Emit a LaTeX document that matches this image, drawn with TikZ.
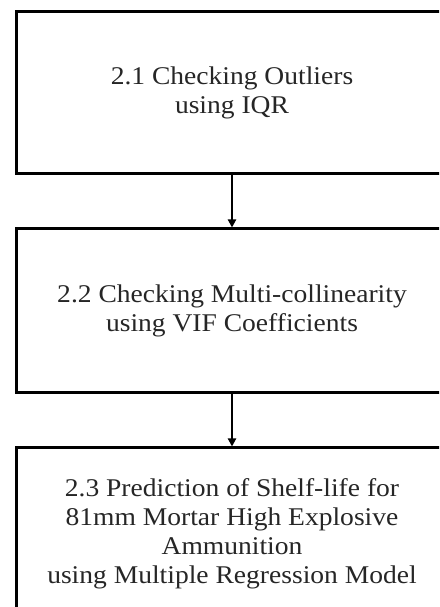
\documentclass[tikz,border=0pt]{standalone}
\usepackage{fontspec}
\setmainfont{Liberation Serif}[FakeStretch=1.08]
\usetikzlibrary{arrows.meta}
\begin{document}
\begin{tikzpicture}[x=1pt,y=1pt,
  box/.style={draw=black, line width=3pt, minimum width=432pt, align=center,
    font=\fontsize{25.5}{29}\selectfont, inner sep=0pt, text=black!85},
  conn/.style={draw=black, line width=2.4pt, -{Triangle[length=8pt,width=8pt]}}]
\useasboundingbox (0,0) rectangle (439,607);
\clip (0,0) rectangle (439,607);
\fill[white] (0,0) rectangle (439,607);
\node[box, minimum height=162pt] (b1) at (232,514) {2.1 Checking Outliers\\using IQR};
\node[box, minimum height=164pt] (b2) at (232,296) {2.2 Checking Multi-collinearity\\using VIF Coefficients};
\node[box, minimum height=172pt] (b3) at (232,73) {2.3 Prediction of Shelf-life for\\81mm Mortar High Explosive\\Ammunition\\using Multiple Regression Model};
\draw[conn] (b1.south) -- (b2.north);
\draw[conn] (b2.south) -- (b3.north);
\end{tikzpicture}
\end{document}
